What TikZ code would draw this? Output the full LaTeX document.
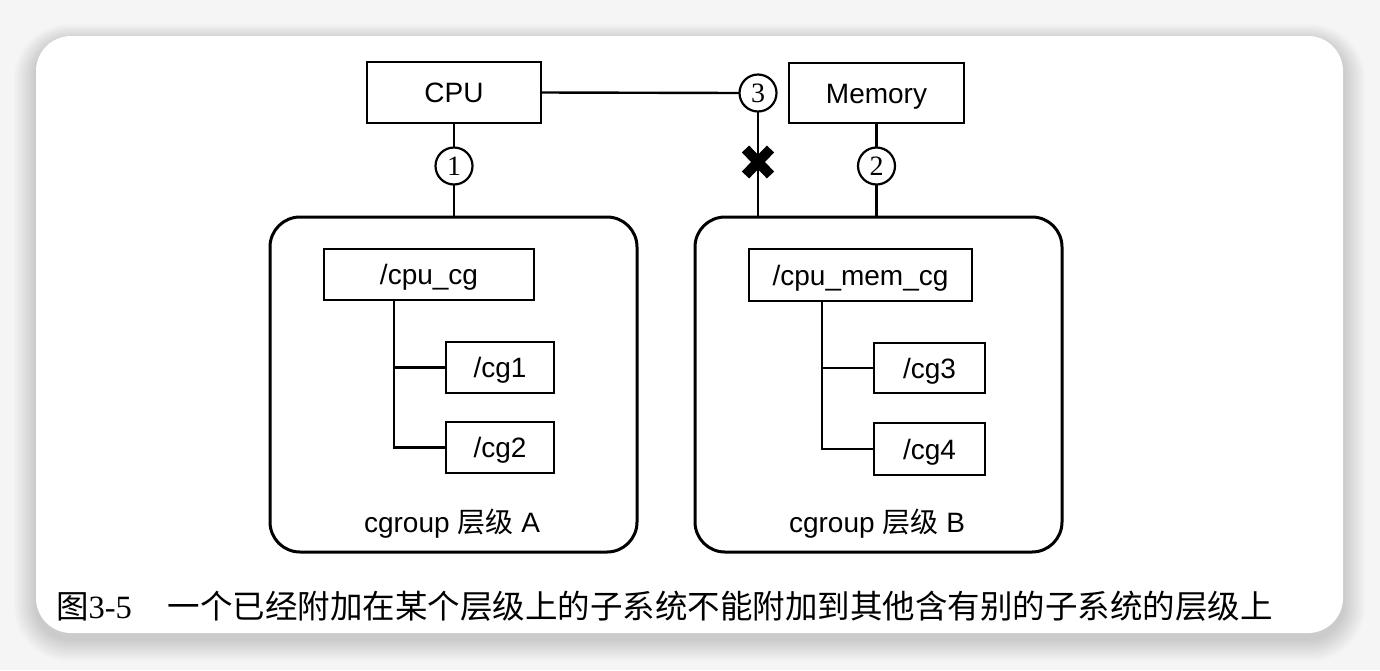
\documentclass[tikz,border=0pt]{standalone}
\usepackage{fontspec}
\usetikzlibrary{calc}
\setmainfont{Liberation Sans}
\newfontfamily\cjk{Noto Sans CJK SC}
\newfontfamily\serif{Liberation Serif}
\begin{document}
\begin{tikzpicture}[x=1pt,y=-1pt,
  every node/.style={inner sep=0pt, outer sep=0pt, text=black},
  box/.style={draw, line width=2.4pt, font=\fontsize{28}{30}\selectfont, anchor=center, text height=20pt, text depth=0pt},
  hier/.style={draw, line width=3pt, rounded corners=30pt},
  num/.style={draw, circle, line width=2.2pt, minimum size=37pt, fill=white, font=\serif\fontsize{28}{28}\selectfont, text height=19pt, text depth=0pt},
  conn/.style={line width=2.4pt},
  lbl/.style={font=\fontsize{28}{30}\selectfont}]
\useasboundingbox (0,0) rectangle (1380,670);
% background and card shadow
\fill[black!4] (0,0) rectangle (1380,670);
\foreach \i in {1,...,14}{
  \fill[black, opacity=0.012, rounded corners={35+\i*1.5}] (36-\i*1.6,36-\i*1.2+5) rectangle (1343+\i*1.6,633+\i*1.6+6);
}
\fill[white, rounded corners=35pt] (36,36) rectangle (1343,633);
% top nodes
\node[box, minimum width=174pt, minimum height=61pt] (cpu) at (454,92.5) {CPU};
\node[box, minimum width=175pt, minimum height=60pt] (mem) at (876.5,93) {Memory};
% hierarchies
\node[hier, minimum width=367pt, minimum height=335pt] (ha) at (453.5,384.5) {};
\node[hier, minimum width=367pt, minimum height=335pt] (hb) at (878.5,384.5) {};
% cgroups A
\node[box, minimum width=210pt, minimum height=51pt] (cpucg) at (429,274.5) {/cpu\_cg};
\node[box, minimum width=108pt, minimum height=51pt] (cga) at (500,367.5) {/cg1};
\node[box, minimum width=108pt, minimum height=51pt] (cgb) at (500,447.5) {/cg2};
\node[lbl] (la) at (452,523.5) {cgroup {\cjk 层级} A};
% cgroups B
\node[box, minimum width=223pt, minimum height=52pt] (cpumemcg) at (860.5,275) {/cpu\_mem\_cg};
\node[box, minimum width=111pt, minimum height=50pt] (cgc) at (929.5,368) {/cg3};
\node[box, minimum width=111pt, minimum height=52pt] (cgd) at (929.5,449) {/cg4};
\node[lbl] (lb) at (877,523.5) {cgroup {\cjk 层级} B};
% trunks
\coordinate (ta) at (394,0);
\coordinate (tb) at (822,0);
\draw[conn] (ta |- cpucg.south) -- (ta |- cgb.west) -- (cgb.west);
\draw[conn] (ta |- cga.west) -- (cga.west);
\draw[conn] (tb |- cpumemcg.south) -- (tb |- cgd.west) -- (cgd.west);
\draw[conn] (tb |- cgc.west) -- (cgc.west);
% attachments
\node[num] (c1) at (cpu.south |- 0,166) {1};
\node[num] (c2) at (mem.south |- 0,166) {2};
\node[num] (c3) at (758,93) {3};
\draw[conn] (cpu.south) -- (c1);
\draw[conn] (c1) -- (c1 |- ha.north);
\draw[conn] (mem.south) -- (c2);
\draw[conn] (c2) -- (c2 |- hb.north);
\draw[conn] (cpu.east) -- (c3.west);
\draw[conn] (c3) -- (c3 |- hb.north);
\coordinate (x) at (758,162);
\draw[line width=10pt] ($(x)+(-12.5,-13)$) -- ($(x)+(12.5,13)$);
\draw[line width=10pt] ($(x)+(-12.5,13)$) -- ($(x)+(12.5,-13)$);
% caption
\node[anchor=west, font=\cjk\fontsize{32.5}{34}\selectfont] (cap) at (56,606) {图{\serif 3-5}\hspace{36pt}一个已经附加在某个层级上的子系统不能附加到其他含有别的子系统的层级上};
\end{tikzpicture}
\end{document}
